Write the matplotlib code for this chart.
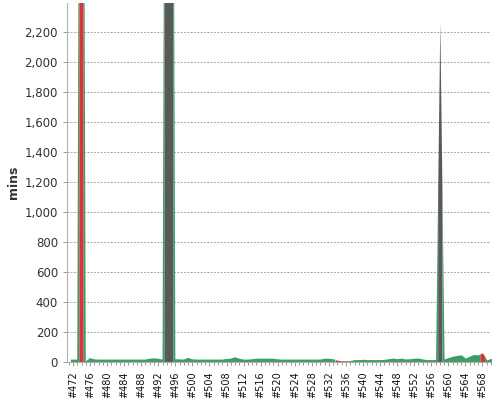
import matplotlib
matplotlib.use('Agg')
import matplotlib.pyplot as plt
from matplotlib.ticker import FuncFormatter, MultipleLocator

# build numbers and duration (mins)
builds = list(range(472, 571))
mins = [16, 16, 9000, 4, 26, 18, 16, 16, 16, 16,         # 472-481
        16, 16, 16, 16, 16, 16, 16, 16, 22, 24,          # 482-491
        22, 16, 9000, 9000, 18, 18, 16, 28, 18, 16,      # 492-501
        16, 16, 16, 16, 16, 16, 20, 22, 32, 22,          # 502-511
        16, 16, 18, 22, 22, 22, 22, 22, 18, 16,          # 512-521
        16, 16, 16, 16, 16, 16, 16, 16, 16, 22,          # 522-531
        22, 18, 12, 8, 8, 10, 16, 16, 18, 16,            # 532-541
        16, 16, 16, 18, 22, 26, 22, 26, 20, 22,          # 542-551
        26, 26, 20, 16, 16, 16, 2270, 20, 30, 38,        # 552-561
        44, 48, 26, 40, 50, 48, 62, 14, 24]              # 562-570
failed = [474, 534, 535, 536, 568]
aborted = [494, 495, 558]

colors = {'S': '#3f9b68', 'F': '#d9343b', 'A': '#595959'}
status = ['F' if b in failed else 'A' if b in aborted else 'S' for b in builds]

fig, ax = plt.subplots(figsize=(5, 4), dpi=100)
fig.subplots_adjust(left=0.134, right=0.982, bottom=0.095, top=0.9925)

# stacked-area look: each build spans half a build either side,
# joined to its neighbours at the midpoints
n = len(builds)
i = 0
while i < n:
    j = i
    while j + 1 < n and status[j + 1] == status[i]:
        j += 1
    xs = [builds[i] - 0.5]
    ys = [(mins[i - 1] + mins[i]) / 2 if i > 0 else mins[i]]
    for k in range(i, j + 1):
        xs.append(builds[k])
        ys.append(mins[k])
    xs.append(builds[j] + 0.5)
    ys.append((mins[j] + mins[j + 1]) / 2 if j + 1 < n else mins[j])
    ax.fill_between(xs, 0, ys, color=colors[status[i]], linewidth=0, zorder=2)
    i = j + 1

ax.set_xlim(470.6, 570.0)
ax.set_ylim(0, 2393)

ax.yaxis.set_major_locator(MultipleLocator(200))
ax.yaxis.set_major_formatter(FuncFormatter(lambda v, p: '{:,.0f}'.format(v)))
ax.set_xticks(builds[::4])
ax.set_xticklabels(['#%d' % b for b in builds[::4]], rotation=90)
ax.xaxis.set_minor_locator(MultipleLocator(1))

ax.grid(axis='y', color='#888888', linestyle=(0, (2, 2)), linewidth=0.6, zorder=1)
ax.set_axisbelow(True)

for s in ['top', 'right']:
    ax.spines[s].set_visible(False)
for s in ['left', 'bottom']:
    ax.spines[s].set_color('#b0b0b0')

ax.tick_params(axis='y', labelsize=8.5, colors='#888888', labelcolor='#333333', length=3, width=0.6)
ax.tick_params(axis='x', labelsize=7, colors='#888888', labelcolor='#111111', length=3, width=0.6)
ax.tick_params(axis='x', which='minor', colors='#888888', length=2, width=0.6)

ax.set_ylabel('mins', fontsize=9, fontweight='bold', color='#333333')
ax.yaxis.set_label_coords(-0.11, 0.5)

plt.savefig('out.png')
